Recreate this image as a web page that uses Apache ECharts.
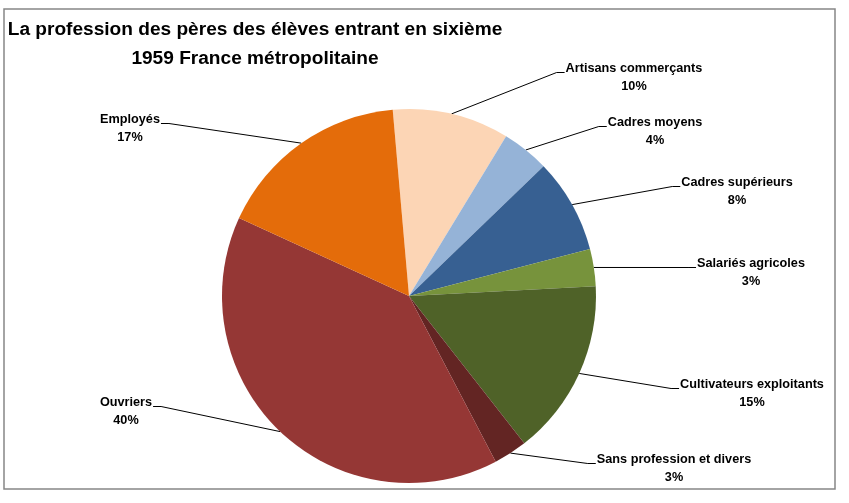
<!DOCTYPE html>
<html><head><meta charset="utf-8">
<script src="https://cdn.jsdelivr.net/npm/echarts@6/dist/echarts.min.js"></script>
<style>html,body{margin:0;padding:0;background:#fff}#c{width:849px;height:503px}</style>
</head><body><div id="c"></div>
<script>
// Data (percent shares)
var categories = ['Artisans commerçants','Cadres moyens','Cadres supérieurs','Salariés agricoles','Cultivateurs exploitants','Sans profession et divers','Ouvriers','Employés'];
var values = [10.1, 4.1, 8.2, 3.2, 15.3, 2.9, 39.6, 16.8];
var colors = ['#FCD5B5','#95B3D7','#376092','#77933C','#4F6228','#632523','#953735','#E46C0A'];
var titleLines = ['La profession des pères des élèves entrant en sixième','1959 France métropolitaine'];

// Label layout: [centerX, topY, side]
var labelPlace = [[634,59,'r'],[655,113,'r'],[737,173,'r'],[751,254,'r'],[752,375,'r'],[674,450,'r'],[126,393,'l'],[130,110,'l']];

var chart = echarts.init(document.getElementById('c'));
chart.setOption({
  animation:false,
  backgroundColor:'#fff',
  title:{
    text: titleLines.join('\n'),
    left: 250, top: 10, textAlign:'center',
    textStyle:{fontFamily:'Liberation Sans', fontWeight:'bold', fontSize:19.1, color:'#000', lineHeight:29}
  },
  graphic:[{type:'rect', shape:{x:4,y:9,width:831,height:480}, style:{fill:null, stroke:'#868686', lineWidth:1.5}, silent:true}],
  series:[{
    type:'pie',
    center:[409,296],
    radius:187,
    startAngle:95,
    clockwise:true,
    avoidLabelOverlap:false,
    data: categories.map(function(c,i){return {name:c, value:values[i], itemStyle:{color:colors[i]}};}),
    label:{
      show:true, position:'outside',
      formatter:function(p){return p.name+'\n'+Math.round(p.percent)+'%';},
      fontFamily:'Liberation Sans', fontWeight:'bold', fontSize:12.7, color:'#000', lineHeight:18, align:'center'
    },
    labelLine:{show:true, length:10, length2:10, lineStyle:{color:'#000', width:1}},
    labelLayout:function(params){
      var lp = labelPlace[params.dataIndex];
      var w = params.labelRect.width;
      var start = params.labelLinePoints ? params.labelLinePoints[0] : null;
      var by = lp[1]+13.5;
      var res = {x:lp[0], y:lp[1], align:'center', verticalAlign:'top'};
      if(start){
        var ex, mx;
        if(lp[2]==='r'){ ex = lp[0]-w/2-1; mx = ex-8; }
        else { ex = lp[0]+w/2+1; mx = ex+8; }
        res.labelLinePoints = [[start[0],start[1]],[mx,by],[ex,by]];
      }
      return res;
    },
    emphasis:{disabled:true}
  }]
});
</script></body></html>
